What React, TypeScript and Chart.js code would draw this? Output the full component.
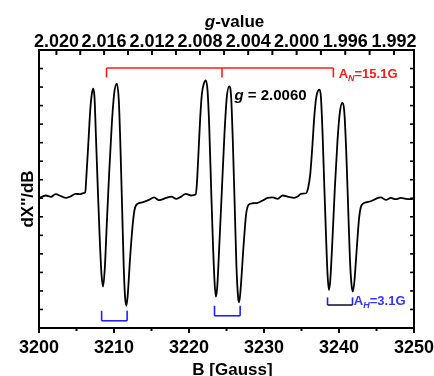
import { useEffect, useRef } from "react";
import { Chart, registerables } from "chart.js";

Chart.register(...registerables);

// ---- data ----
const fieldGauss = [
  3200.0, 3200.9, 3201.6, 3202.2, 3203.0, 3203.6, 3204.1, 3204.9, 3205.5, 3205.9, 3206.16,
  3206.34, 3206.6, 3206.83, 3207.05, 3207.23, 3207.4, 3207.58, 3207.85, 3208.11, 3208.33,
  3208.55, 3208.78, 3209.04, 3209.35, 3209.71, 3210.02, 3210.37, 3210.64, 3210.86, 3211.08,
  3211.3, 3211.48, 3211.66, 3211.84, 3212.15, 3212.46, 3212.72, 3213.12, 3213.79, 3214.67,
  3215.34, 3216.0, 3216.98, 3217.64, 3218.31, 3218.97, 3219.55, 3220.3, 3220.88, 3221.05,
  3221.28, 3221.5, 3221.72, 3221.98, 3222.25, 3222.47, 3222.7, 3222.96, 3223.18, 3223.4,
  3223.58, 3223.76, 3224.07, 3224.38, 3224.73, 3225.04, 3225.36, 3225.62, 3225.84, 3226.1,
  3226.33, 3226.55, 3226.69, 3226.9, 3227.26, 3227.62, 3227.97, 3228.5, 3229.16, 3229.83,
  3230.49, 3231.16, 3231.82, 3232.49, 3233.15, 3234.04, 3234.49, 3234.93, 3235.6, 3235.9,
  3236.17, 3236.44, 3236.7, 3236.97, 3237.23, 3237.41, 3237.59, 3237.81, 3238.03, 3238.26,
  3238.47, 3238.66, 3238.83, 3239.14, 3239.45, 3239.8, 3240.12, 3240.43, 3240.69, 3240.96,
  3241.22, 3241.45, 3241.66, 3241.85, 3242.06, 3242.38, 3242.69, 3242.99, 3243.58, 3244.24,
  3244.91, 3245.57, 3246.24, 3246.9, 3247.57, 3248.23, 3248.9, 3249.56, 3250.0,
];
const signal = [
  0.0, 0.15, 0.08, 0.22, 0.1, 0.02, 0.08, 0.24, 0.22, 0.28, 0.32,
  1.32, 3.12, 4.74, 5.64, 5.91, 5.46, 3.48, 0.42, -2.29, -4.09,
  -4.76, -3.73, -1.38, 1.32, 4.02, 5.64, 6.18, 5.28, 2.76, -0.49,
  -3.73, -5.35, -5.8, -5.17, -3.19, -1.57, -0.66, -0.3, -0.22, -0.09,
  0.05, -0.1, 0.02, 0.09, -0.03, 0.09, 0.24, 0.15, 0.2, 0.78,
  2.58, 4.38, 5.64, 6.18, 6.36, 5.82, 3.84, 0.42, -2.29, -4.45,
  -5.31, -4.81, -2.29, 0.42, 3.48, 5.46, 6.04, 5.46, 3.12, -0.49,
  -3.73, -5.35, -5.62, -4.81, -2.65, -0.84, -0.34, -0.27, -0.25, -0.12,
  0.02, 0.05, -0.03, 0.15, 0.09, 0.02, 0.09, 0.24, 0.27, 0.59,
  1.32, 2.76, 4.38, 5.46, 5.82, 5.86, 5.46, 3.48, 0.78, -1.92,
  -4.09, -4.95, -4.45, -2.11, 0.59, 3.12, 4.65, 5.14, 4.74, 2.58,
  -0.49, -3.19, -4.63, -5.03, -4.45, -2.65, -1.03, -0.39, -0.22, -0.16,
  -0.03, 0.05, -0.09, 0.02, -0.05, 0.02, -0.03, -0.05, 0.0,
];

const fieldMajorTicks = [3200, 3210, 3220, 3230, 3240, 3250];
const fieldMinorTicks = [3205, 3215, 3225, 3235, 3245];
const gLabelTicks = [2.02, 2.016, 2.012, 2.008, 2.004, 2.0, 1.996, 1.992];
const gMinorTicks = [2.018, 2.014, 2.01, 2.006, 2.002, 1.998, 1.994];
const G_TIMES_FIELD = 6468.7; // g * B (Gauss) for this spectrometer frequency
const intensityTicks = [-7, -6, -5, -4, -3, -2, -1, 0, 1, 2, 3, 4, 5, 6, 7, 8];

const nitrogenBracketField = [3209.0, 3224.4, 3239.25];
const nitrogenBracketLevel = [7.03, 6.52];
const hydrogenBracketLeft = [3208.35, 3223.4, 3238.47];
const hydrogenBracketRight = [3211.75, 3226.82, 3241.8];
const hydrogenBracketTop = [-6.07, -5.8, -5.35];
const hydrogenBracketBottom = [-6.61, -6.34, -5.76];
const gLabelPos = { field: 3226.06, level: 5.28, text: "2.0060" };
const aNLabelPos = { field: 3239.95, level: 6.47, text: "=15.1G" };
const aHLabelPos = { field: 3241.98, level: -5.76, text: "=3.1G" };

const FONT = "'Liberation Sans', Arial, Helvetica, sans-serif";
const RED = "#ff1a1a";
const BLUE_LINE = "#1f1fff";
const BLUE_TEXT = "#3333ff";

const overlayPlugin = {
  id: "overlay",
  afterDraw(chart: any) {
    const { ctx, chartArea: a } = chart;
    const xs = chart.scales.x;
    const ys = chart.scales.y;
    const X = (v: number) => xs.getPixelForValue(v);
    const Y = (v: number) => ys.getPixelForValue(v);
    const line = (x1: number, y1: number, x2: number, y2: number) => {
      ctx.beginPath();
      ctx.moveTo(x1, y1);
      ctx.lineTo(x2, y2);
      ctx.stroke();
    };
    ctx.save();
    // tick marks
    ctx.strokeStyle = "#000";
    ctx.lineWidth = 2;
    fieldMajorTicks.forEach((v) => line(X(v), a.bottom, X(v), a.bottom + 5));
    fieldMinorTicks.forEach((v) => line(X(v), a.bottom, X(v), a.bottom + 3));
    [...gLabelTicks, ...gMinorTicks].forEach((g) => {
      const px = X(G_TIMES_FIELD / g);
      line(px, a.top, px, a.top + 5);
    });
    ctx.lineWidth = 1.6;
    intensityTicks.forEach((v) => {
      const py = Y(v);
      line(a.left, py, a.left + 4, py);
      line(a.right - 4, py, a.right, py);
    });

    // red nitrogen bracket
    ctx.strokeStyle = RED;
    ctx.lineWidth = 1.6;
    const yTop = Y(nitrogenBracketLevel[0]);
    const yEnd = Y(nitrogenBracketLevel[1]);
    line(X(nitrogenBracketField[0]), yTop, X(nitrogenBracketField[2]), yTop);
    nitrogenBracketField.forEach((f) => line(X(f), yTop, X(f), yEnd));

    // blue hydrogen brackets
    hydrogenBracketLeft.forEach((l, i) => {
      const r = hydrogenBracketRight[i];
      const t = Y(hydrogenBracketTop[i]);
      const b = Y(hydrogenBracketBottom[i]);
      ctx.strokeStyle = BLUE_LINE;
      line(X(l), t, X(l), b);
      line(X(r), t, X(r), b);
      ctx.strokeStyle = i === 2 ? "#1a1a33" : BLUE_LINE;
      line(X(l), b, X(r), b);
    });

    // g = 2.0060 label
    ctx.textBaseline = "alphabetic";
    ctx.textAlign = "left";
    ctx.fillStyle = "#000";
    let px = X(gLabelPos.field);
    const py = Y(gLabelPos.level);
    ctx.font = `italic bold 15px ${FONT}`;
    ctx.fillText("g", px, py);
    px += ctx.measureText("g").width;
    ctx.font = `bold 15px ${FONT}`;
    ctx.fillText(" = " + gLabelPos.text, px, py);

    // A_N / A_H labels
    const drawA = (pos: { field: number; level: number; text: string }, sub: string, color: string) => {
      let x = X(pos.field);
      const y = Y(pos.level);
      ctx.fillStyle = color;
      ctx.font = `bold 13px ${FONT}`;
      ctx.fillText("A", x, y);
      x += ctx.measureText("A").width;
      ctx.font = `italic bold 9px ${FONT}`;
      ctx.fillText(sub, x, y + 3);
      x += ctx.measureText(sub).width;
      ctx.font = `bold 13px ${FONT}`;
      ctx.fillText(pos.text, x, y);
    };
    drawA(aNLabelPos, "N", RED);
    drawA(aHLabelPos, "H", BLUE_TEXT);

    // axis titles
    ctx.fillStyle = "#000";
    const cx = (a.left + a.right) / 2 + 8;
    ctx.font = `italic bold 17px ${FONT}`;
    const wg = ctx.measureText("g").width;
    ctx.font = `bold 17px ${FONT}`;
    const wv = ctx.measureText("-value").width;
    const sx = cx - (wg + wv) / 2;
    ctx.font = `italic bold 17px ${FONT}`;
    ctx.fillText("g", sx, 26.5);
    ctx.font = `bold 17px ${FONT}`;
    ctx.fillText("-value", sx + wg, 26.5);

    ctx.textAlign = "center";
    ctx.fillText("B [Gauss]", cx - 2, 375);

    ctx.save();
    ctx.translate(33, (a.top + a.bottom) / 2 + 10);
    ctx.rotate(-Math.PI / 2);
    ctx.textAlign = "center";
    ctx.textBaseline = "alphabetic";
    ctx.fillText("dX''/dB", 0, 0);
    ctx.restore();

    ctx.restore();
  },
};

export default function App() {
  const ref = useRef<HTMLCanvasElement | null>(null);
  useEffect(() => {
    if (!ref.current) return;
    const points = fieldGauss.map((b, i) => ({ x: b, y: signal[i] }));
    const tickFont = { family: FONT, size: 18, weight: "bold" as const };
    const chart = new Chart(ref.current, {
      type: "line",
      data: {
        datasets: [
          {
            data: points,
            borderColor: "#000",
            borderWidth: 1.8,
            pointRadius: 0,
            cubicInterpolationMode: "monotone",
            fill: false,
            xAxisID: "x",
            yAxisID: "y",
          },
        ],
      },
      options: {
        animation: false,
        responsive: false,
        devicePixelRatio: 1,
        layout: { padding: 0 },
        plugins: { legend: { display: false }, tooltip: { enabled: false } },
        scales: {
          x: {
            type: "linear",
            position: "bottom",
            min: 3200,
            max: 3250,
            afterBuildTicks: (s: any) => {
              s.ticks = fieldMajorTicks.map((v) => ({ value: v }));
            },
            ticks: {
              autoSkip: false,
              maxRotation: 0,
              minRotation: 0,
              color: "#000",
              font: tickFont,
              padding: 9,
              callback: (v: any) => String(Math.round(Number(v))),
            },
            grid: { display: false, drawTicks: false },
            border: { display: true, width: 2, color: "#000" },
            afterFit: (s: any) => {
              s.height = 48;
              s.paddingLeft = 0;
              s.paddingRight = 0;
            },
          },
          x2: {
            type: "linear",
            position: "top",
            min: 3200,
            max: 3250,
            afterBuildTicks: (s: any) => {
              s.ticks = gLabelTicks.map((g) => ({ value: G_TIMES_FIELD / g }));
            },
            ticks: {
              autoSkip: false,
              maxRotation: 0,
              minRotation: 0,
              color: "#000",
              font: tickFont,
              padding: -3,
              callback: (v: any) => (G_TIMES_FIELD / Number(v)).toFixed(3),
            },
            grid: { display: false, drawTicks: false },
            border: { display: true, width: 2, color: "#000" },
            afterFit: (s: any) => {
              s.height = 50;
              s.paddingLeft = 0;
              s.paddingRight = 0;
            },
          },
          y: {
            type: "linear",
            position: "left",
            min: -7,
            max: 8,
            ticks: { display: false },
            grid: { display: false, drawTicks: false },
            border: { display: true, width: 2, color: "#000" },
            afterFit: (s: any) => {
              s.width = 39;
            },
          },
          y2: {
            type: "linear",
            position: "right",
            min: -7,
            max: 8,
            ticks: { display: false },
            grid: { display: false, drawTicks: false },
            border: { display: true, width: 2, color: "#000" },
            afterFit: (s: any) => {
              s.width = 20;
            },
          },
        },
      } as any,
      plugins: [overlayPlugin],
    });
    return () => chart.destroy();
  }, []);
  return (
    <div style={{ position: "fixed", left: 0, top: 0, width: 434, height: 376, background: "#fff" }}>
      <canvas ref={ref} width={434} height={376} style={{ display: "block" }} />
    </div>
  );
}
